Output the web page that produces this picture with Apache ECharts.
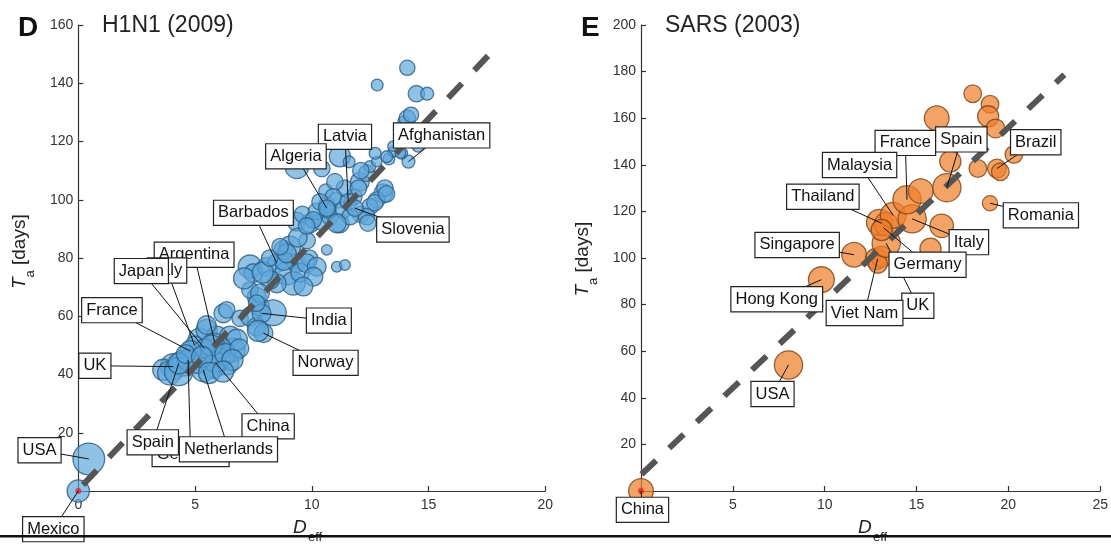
<!DOCTYPE html>
<html>
<head>
<meta charset="utf-8">
<script src="https://cdn.jsdelivr.net/npm/echarts@6/dist/echarts.min.js"></script>
<style>
html,body{margin:0;padding:0;background:#fff;}
#c{width:1111px;height:545px;}
</style>
</head>
<body>
<div id="c"></div>
<script>
// ---------- DATA ----------
// H1N1 (2009): [D_eff, T_a (days), relative bubble size]
const h1n1Points = [
  [0.0,0.0,9.5],[0.45,11,13.5],
  [4.07,42.7,11],[3.64,41.6,9],[4.5,43.9,11],[4.93,46.1,10],[3.9,40.5,10],[4.3,41,12],
  [5.21,51.9,10],[5.5,55.3,9],[5.93,53,9],[6.5,53,9],[6.64,48.4,10],[6.36,43.9,10],[5.78,42.7,10],
  [5.35,41.6,10],[6.79,51.9,9],[5.5,57,8],[5.9,47,10],[6.1,49,9],[5.1,44,9],[6.0,45,10],
  [5.84,51,8],[4.98,50,8],[5.4,49,8],[4.8,48,9],[5.87,44.2,9],[4.7,45,9],[4.3,43.8,9],
  [5.7,50,9],[6.3,47,9],[6.9,49,8],[4.6,47,8],[5.3,46,9],[6.6,45,9],[5.6,40.5,9],[6.2,41,9],
  [6.21,61,8],[6.36,62.2,7],[6.93,59.3,7],[7.35,59.9,8],[7.64,56.4,8],[7.93,54.2,8],[7.78,63.3,8],
  [7.64,66.7,8],[8.35,61.2,11],[7.85,61,8],[7.7,55,9],
  [7.35,77,10],[7.5,74.8,8],[8.07,77,8],[8.5,78.2,8],[8.78,82.8,8],[9.07,83.9,9],[8.93,74.8,10],
  [9.21,71.3,10],[8.5,71.3,8],[9.35,78.2,8],[8.21,72.5,8],[7.35,69,7],[7.78,67.9,8],[7.64,64.5,7],
  [7.1,73,9],[7.9,75,9],[8.8,79,8],[9.5,75,8],[8.2,80,7],[9.9,80,7],
  [9.35,92.5,8],[9.92,91.9,8],[10.35,92.5,7],[10.78,94.2,7],[11.2,91.9,8],[10.64,98.2,7],[11.07,99.9,7],
  [8.93,81.6,8],[8.64,83.9,7],[9.78,78.2,8],[10.21,77,8],[10.07,73.6,8],[9.64,70.2,8],
  [10.64,82.8,4.5],[11.07,77,4.5],[11.42,77.6,4.5],[9.8,86,7],[9.4,87,8],
  [9.6,95,7],[10.2,96,7],[11.8,101,7],[12.1,95,7],[11.4,104,7],[10.6,103,6],
  [9.36,111.3,10],[10.43,110.7,7],[11.2,114.9,9],[11.6,113,5],[10.99,106.2,7],[12.06,106.2,8],
  [12.35,109.1,7],[12.49,111.4,5],[12.78,113.1,4.5],[13.06,102.2,8],[13.13,104,7],[12.78,99.9,7],
  [12.49,97.6,7],[12.35,94.2,7],[10.92,101,7],[10.35,99.3,7],[10.7,96.5,7],[11.35,96.5,7],
  [11.64,94.2,7],[11.07,91.9,8],[10.07,93.1,7],[9.78,91,7],[11.56,99.3,7],[10.64,97.1,7],
  [11.85,97.1,7],[12.0,104,7],[12.1,110,7],[13.3,114,5],[12.4,92,7],[12.7,99,7],[13.2,102,7],
  [14.14,113.1,5.5],[13.85,116,5],[13.49,116.5,4.5],[13.21,114.8,5],[12.71,116,5],[13.48,118.4,4.5],
  [14.55,118.4,5],[13.79,116,4.5],[13.94,126.8,5],[14.09,128,7],[14.25,129.2,6.5],[14.48,136.4,7],
  [14.94,136.4,5.5],[12.8,139.4,5],[14.09,145.3,6.5]
];
// SARS (2003): [D_eff, T_a (days), relative bubble size]
const sarsPoints = [
  [0,0,10.5],[8.03,54.1,12],[9.82,90.7,11],[11.6,101.4,10.5],
  [12.8,99.6,9],[13.1,100.5,9],[12.9,97.5,8],[13.35,106.3,12],
  [12.98,115.3,11],[13.35,114.5,10],[13.73,118.3,11],[13.1,112,9],
  [14.76,116.8,12],[14.48,125,12],[15.23,128.7,10.5],[16.65,130.2,12],
  [16.84,141.4,9],[16.1,160,10.5],[16.37,113.8,10],[15.76,104,9],
  [18.06,170.5,7.5],[19.0,166,7.5],[18.9,160.8,9],[19.3,155.6,8],
  [18.34,138.4,7.5],[19.38,138.4,8],[19.56,137,7.5],[20.3,144.4,7.5],[19.0,123.5,6.5]
];
// fitted (dashed) lines: two end points each
const h1n1Fit = [[0.2,2.1],[17.84,151.9]];
const sarsFit = [[0.03,7.2],[23.05,178.7]];
// outbreak origin country (red dot)
const h1n1Origin = [[0,0]];
const sarsOrigin = [[0,0]];
// annotations: [name, label D_eff, label T_a, point D_eff, point T_a]
const h1n1Labels = [
  ['Latvia',11.42,121.6,11.56,99.3],
  ['Afghanistan',15.56,122.1,14.14,113.1],
  ['Algeria',9.32,114.9,10.64,97.1],
  ['Barbados',7.50,95.5,8.5,78.2],
  ['Slovenia',14.33,89.8,11.85,97.1],
  ['Argentina',4.96,81.1,5.84,51],
  ['Italy',3.80,75.7,4.98,50],
  ['Japan',2.70,75.5,5.4,49],
  ['France',1.44,62.1,4.8,48],
  ['UK',0.71,43.0,4.07,42.7],
  ['India',10.73,58.5,7.85,61],
  ['Norway',10.59,44.0,7.93,54.2],
  ['China',8.13,22.2,5.87,44.2],
  ['Germany',4.81,12.7,4.7,45],
  ['Spain',3.19,16.7,4.3,43.8],
  ['Netherlands',6.43,14.3,5.35,41.6],
  ['USA',-1.66,14.0,0.45,11],
  ['Mexico',-1.07,-13.1,0,0]
];
const sarsLabels = [
  ['France',14.39,149.4,14.48,125],
  ['Spain',17.44,150.9,16.65,130.2],
  ['Brazil',21.49,149.7,19.38,138.4],
  ['Malaysia',11.9,139.9,13.73,118.3],
  ['Thailand',9.9,126.3,13.1,114.9],
  ['Romania',21.77,118.3,19.0,123.5],
  ['Singapore',8.5,105.6,11.6,101.4],
  ['Italy',17.85,106.8,14.76,116.8],
  ['UK',15.07,79.5,13.35,106.3],
  ['Germany',15.6,97.1,13.2,113],
  ['Viet Nam',12.17,76.4,12.88,99.6],
  ['Hong Kong',7.39,82.3,9.82,90.7],
  ['USA',7.16,41.6,8.03,54.1],
  ['China',0.08,-8.1,0,0]
];
const panelTitles = ['H1N1 (2009)','SARS (2003)'];
const panelLetters = ['D','E'];

// ---------- CHART ----------
const FF = "'Liberation Sans', Arial, Helvetica, sans-serif";
const chart = echarts.init(document.getElementById('c'), null, {renderer:'canvas'});

function xAxisCfg(g, max){
  return {gridIndex:g, type:'value', min:0, max:max, interval:5,
    axisLine:{show:true, onZero:false, lineStyle:{color:'#333', width:1.2}},
    axisTick:{show:true, inside:true, length:5, lineStyle:{color:'#333', width:1.2}},
    axisLabel:{color:'#333', fontSize:14, fontFamily:FF, margin:7},
    splitLine:{show:false}};
}
function yAxisCfg(g, max){
  return {gridIndex:g, type:'value', min:0, max:max, interval:20,
    axisLine:{show:true, onZero:false, lineStyle:{color:'#333', width:1.2}},
    axisTick:{show:true, inside:true, length:5, lineStyle:{color:'#333', width:1.2}},
    axisLabel:{color:'#333', fontSize:14, fontFamily:FF, margin:5, showMinLabel:false},
    splitLine:{show:false}};
}
function panelSeries(g, pts, fit, origin, labels, fill, stroke){
  return [
    {type:'scatter', xAxisIndex:g, yAxisIndex:g, data:pts, z:2,
     symbolSize:function(v){return v[2]*2.35;},
     itemStyle:{color:fill, borderColor:stroke, borderWidth:1.3}},
    {type:'scatter', xAxisIndex:g, yAxisIndex:g, data:origin, z:3, symbolSize:6,
     itemStyle:{color:'#e3202b', borderWidth:0}},
    {type:'line', xAxisIndex:g, yAxisIndex:g, data:fit, z:3, symbol:'none',
     lineStyle:{color:'#555', width:6, type:[20,18], cap:'butt'}},
    {type:'lines', coordinateSystem:'cartesian2d', xAxisIndex:g, yAxisIndex:g, z:4, clip:false,
     data:labels.map(function(d){return {coords:[[d[1],d[2]],[d[3],d[4]]]};}),
     lineStyle:{color:'#111', width:1, opacity:1, curveness:0}},
    {type:'scatter', xAxisIndex:g, yAxisIndex:g, z:5, clip:false, symbolSize:1,
     itemStyle:{color:'rgba(0,0,0,0)', borderWidth:0},
     data:labels.map(function(d){return {name:d[0], value:[d[1],d[2]]};}),
     label:{show:true, opacity:1, position:'inside', formatter:'{b}', color:'#111', fontSize:16.5, fontFamily:FF,
       backgroundColor:'#fff', borderColor:'#222', borderWidth:1.2, padding:[4,4,3,4]}}
  ];
}

function yName(ox, oy){
  return {type:'group', x:ox, y:oy, rotation:Math.PI/2, children:[
    {type:'text', x:0, y:29, style:{text:'T', fontSize:19, fontStyle:'italic', fontFamily:FF, fill:'#222', verticalAlign:'bottom'}},
    {type:'text', x:11.5, y:37, style:{text:'a', fontSize:13, fontFamily:FF, fill:'#222', verticalAlign:'bottom'}},
    {type:'text', x:24, y:29, style:{text:'[days]', fontSize:19, fontFamily:FF, fill:'#222', verticalAlign:'bottom'}}
  ]};
}
function xName(ox){
  return [
    {type:'text', x:ox, y:537, style:{text:'D', fontSize:19, fontStyle:'italic', fontFamily:FF, fill:'#222', verticalAlign:'bottom'}},
    {type:'text', x:ox+15, y:544, style:{text:'eff', fontSize:13, fontFamily:FF, fill:'#222', verticalAlign:'bottom'}}
  ];
}

const option = {
  animation:false,
  backgroundColor:'#fff',
  grid:[
    {left:78.3, right:565.7, top:25, bottom:54},
    {left:641, right:3.3, top:25, bottom:54}
  ],
  xAxis:[xAxisCfg(0,20), xAxisCfg(1,25)],
  yAxis:[yAxisCfg(0,160), yAxisCfg(1,200)],
  series:[].concat(
    panelSeries(0, h1n1Points, h1n1Fit, h1n1Origin, h1n1Labels, 'rgba(92,166,218,0.85)', '#2c5d80'),
    panelSeries(1, sarsPoints, sarsFit, sarsOrigin, sarsLabels, 'rgba(240,128,44,0.9)', '#7d4415')
  ),
  graphic:[
    {type:'text', x:18, y:28, style:{text:panelLetters[0], fontSize:28, fontWeight:'bold', fontFamily:FF, fill:'#111', verticalAlign:'middle'}},
    {type:'text', x:581, y:28, style:{text:panelLetters[1], fontSize:28, fontWeight:'bold', fontFamily:FF, fill:'#111', verticalAlign:'middle'}},
    {type:'text', x:102, y:26, style:{text:panelTitles[0], fontSize:23, fontFamily:FF, fill:'#222', verticalAlign:'middle'}},
    {type:'text', x:665, y:26, style:{text:panelTitles[1], fontSize:23, fontFamily:FF, fill:'#222', verticalAlign:'middle'}},
    yName(0, 289),
    yName(563, 296.5)
  ].concat(xName(293), xName(858), [
    {type:'rect', shape:{x:0, y:535, width:1111, height:2.5}, style:{fill:'#111'}, z:100}
  ])
};
chart.setOption(option);
</script>
</body>
</html>
